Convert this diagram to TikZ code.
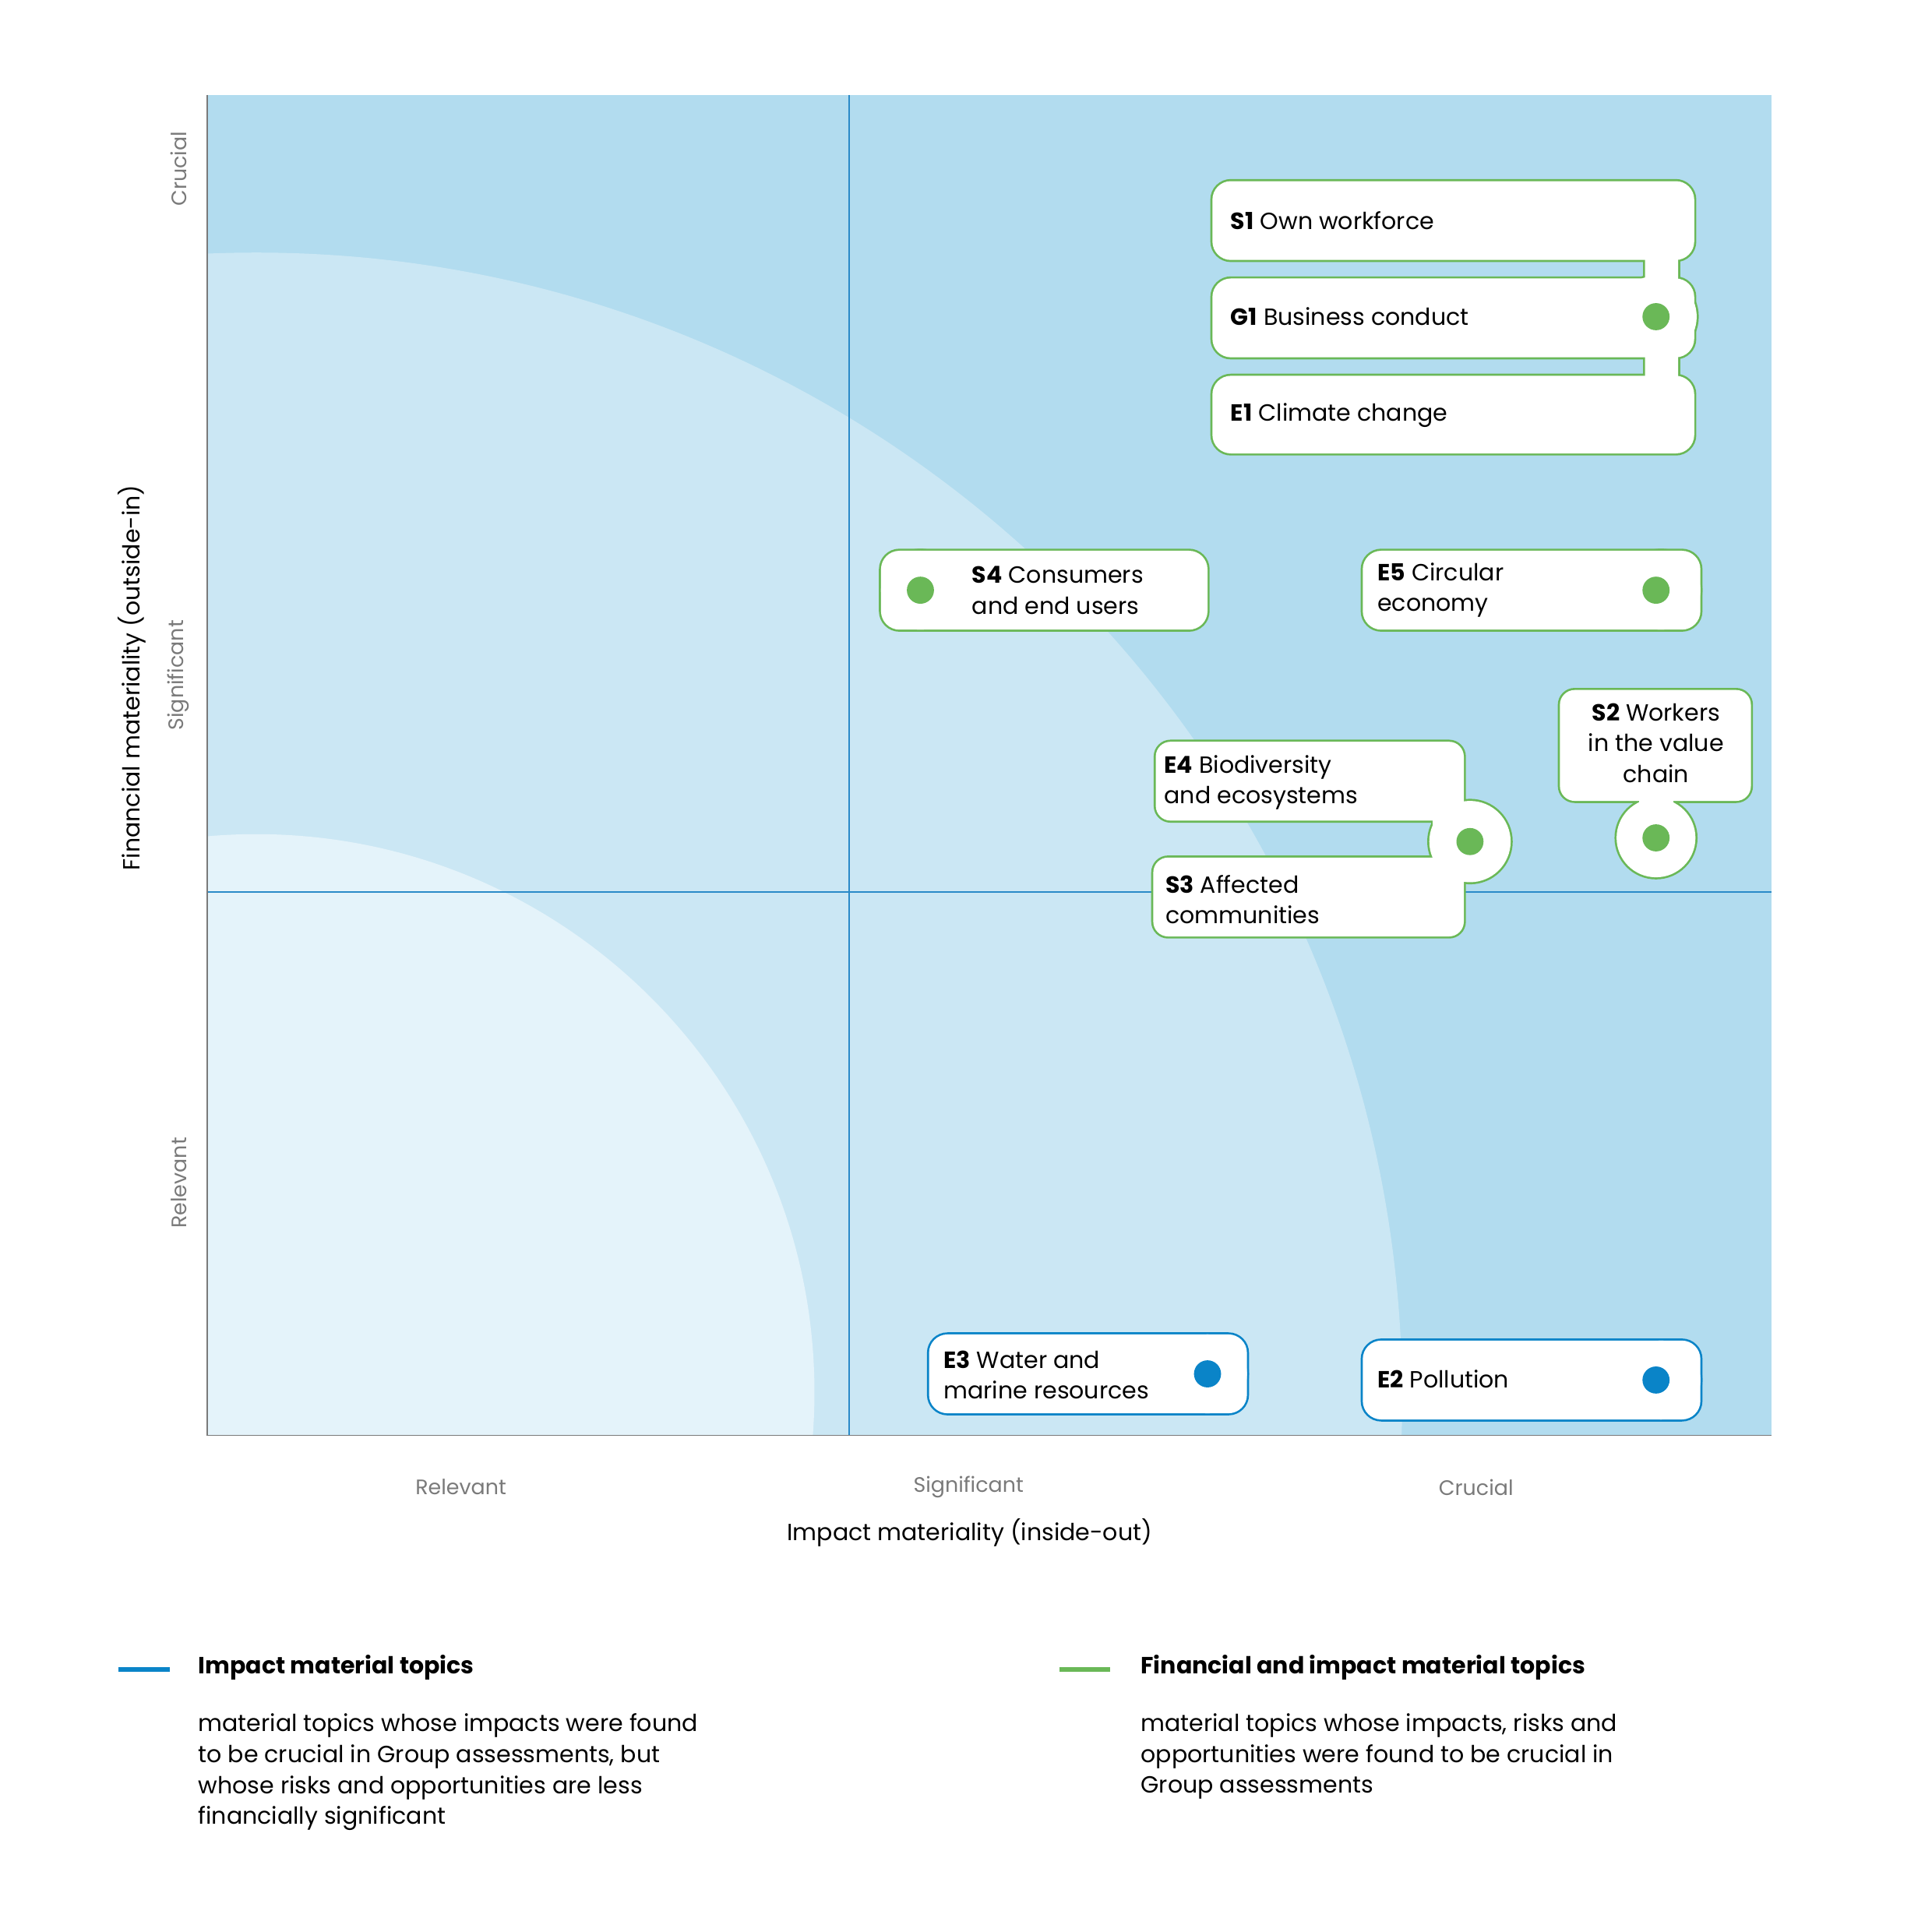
\documentclass[tikz,border=0pt]{standalone}
\usepackage{fontspec}
\setmainfont{Poppins}
\definecolor{bgdark}{HTML}{B2DCEF}
\definecolor{bgmid}{HTML}{CBE7F4}
\definecolor{bglight}{HTML}{E4F3FA}
\definecolor{topicgreen}{HTML}{6AB857}
\definecolor{topicblue}{HTML}{0A84C8}
\definecolor{gridblue}{HTML}{2A8AC8}
\definecolor{axisgray}{HTML}{7A7A7A}
\tikzset{
  piece/.style={line width=3.4pt, line join=round},
  dot/.style={circle, fill=#1, inner sep=0pt, minimum size=22pt},
  label/.style={anchor=west, inner sep=0.75pt, font=\fontsize{19}{25}\selectfont, align=left},
  scale label/.style={text=axisgray, inner sep=0.75pt, font=\fontsize{17}{20}\selectfont},
}
% the outlines of the topic boxes, drawn once stroked and once filled
\newcommand{\greenpieces}[1]{
  \path[#1,rounded corners=15pt] (984,147) rectangle (1375,211);
  \path[#1,rounded corners=15pt] (984,226) rectangle (1375,290);
  \path[#1,rounded corners=15pt] (984,305) rectangle (1375,368);
  \path[#1] (1335,200) rectangle (1362,236) (1335,280) rectangle (1362,316);
  \path[#1] (1344,257) circle (33);
  \path[#1,rounded corners=15pt] (715,447) rectangle (980,511);
  \path[#1] (747,479) circle (32);
  \path[#1,rounded corners=15pt] (1106,447) rectangle (1380,511);
  \path[#1] (1348,479) circle (32);
  \path[#1,rounded corners=12pt] (938,602) rectangle (1188,666);
  \path[#1,rounded corners=12pt] (936,696) rectangle (1188,760);
  \path[#1] (1163,656) rectangle (1190,706);
  \path[#1] (1193,683) circle (33);
  \path[#1,rounded corners=12pt] (1266,560) rectangle (1421,650);
  \path[#1] (1330,640) rectangle (1358,660);
  \path[#1] (1344,680) circle (32);
}
\newcommand{\bluepieces}[1]{
  \path[#1,rounded corners=15pt] (754,1083) rectangle (1012,1147);
  \path[#1] (980,1115) circle (32);
  \path[#1,rounded corners=15pt] (1106,1088) rectangle (1380,1152);
  \path[#1] (1348,1120) circle (32);
}
\begin{document}
\begin{tikzpicture}[x=1pt,y=1pt,yscale=-1]
\useasboundingbox[fill=white] (0,0) rectangle (1568,1568);

% background zones
\fill[bgdark] (168,77) rectangle (1438,1165);
\begin{scope}
  \clip (168,77) rectangle (1438,1165);
  \fill[bgmid] (208,1135) circle (930);
  \fill[bglight] (208,1130) circle (453);
\end{scope}
\draw[gridblue, line width=1pt] (689,77) -- (689,1165);
\draw[gridblue, line width=1pt] (168,724) -- (1438,724);
\draw[axisgray, line width=1pt] (168,77) -- (168,1165) -- (1438,1165);

% topic boxes
\greenpieces{draw=topicgreen,piece,fill=white}
\greenpieces{fill=white}
\bluepieces{draw=topicblue,piece,fill=white}
\bluepieces{fill=white}

% dots
\node[dot=topicgreen] (g1dot) at (1344,257) {};
\node[dot=topicgreen] (s4dot) at (747,479) {};
\node[dot=topicgreen] (e5dot) at (1344,479) {};
\node[dot=topicgreen] (e4dot) at (1193,683) {};
\node[dot=topicgreen] (s2dot) at (1344,680) {};
\node[dot=topicblue] (e3dot) at (980,1115) {};
\node[dot=topicblue] (e2dot) at (1344,1120) {};

% Text Node
\node[label] (s1) at (998,179) {\textbf{S1} Own workforce};
\node[label] (g1) at (998,257) {\textbf{G1} Business conduct};
\node[label] (e1) at (998,337) {\textbf{E1} Climate change};
\node[label] (s4) at (788,479) {\textbf{S4} Consumers\\and end users};
\node[label] (e5) at (1117,479) {\textbf{E5} Circular\\economy};
\node[label] (e4) at (944,635) {\textbf{E4} Biodiversity\\and ecosystems};
\node[label] (s3) at (945,730) {\textbf{S3} Affected\\communities};
\node[label, anchor=center, align=center] (s2) at (1344,603) {\textbf{S2} Workers\\in the value\\chain};
\node[label] (e3) at (765,1116) {\textbf{E3} Water and\\marine resources};
\node[label] (e2) at (1117,1119) {\textbf{E2} Pollution};

% axis scale labels
\node[scale label, rotate=90] (ycru) at (145,137) {Crucial};
\node[scale label, rotate=90] (ysig) at (145,548) {Significant};
\node[scale label, rotate=90] (yrel) at (145,960) {Relevant};
\node[scale label] (xrel) at (374,1207) {Relevant};
\node[scale label] (xsig) at (786,1207) {Significant};
\node[scale label] (xcru) at (1198,1207) {Crucial};
\node[inner sep=0.75pt, font=\fontsize{19}{22}\selectfont] (xtitle) at (787,1244) {Impact materiality (inside-out)};
\node[inner sep=0.75pt, font=\fontsize{19}{22}\selectfont, rotate=90] (ytitle) at (107,550) {Financial materiality (outside-in)};

% legend
\coordinate (lb1) at (96,1355);
\coordinate (lb2) at (138,1355);
\draw[topicblue, line width=4pt] (lb1) -- (lb2);
\node[label] (impact) at (160,1353) {\textbf{Impact material topics}};
\node[label, anchor=north west] (impactdesc) at (160,1390) {material topics whose impacts were found\\to be crucial in Group assessments, but\\whose risks and opportunities are less\\financially significant};
\coordinate (lg1) at (860,1355);
\coordinate (lg2) at (901,1355);
\draw[topicgreen, line width=4pt] (lg1) -- (lg2);
\node[label] (both) at (925,1353) {\textbf{Financial and impact material topics}};
\node[label, anchor=north west] (bothdesc) at (925,1390) {material topics whose impacts, risks and\\opportunities were found to be crucial in\\Group assessments};
\end{tikzpicture}
\end{document}
